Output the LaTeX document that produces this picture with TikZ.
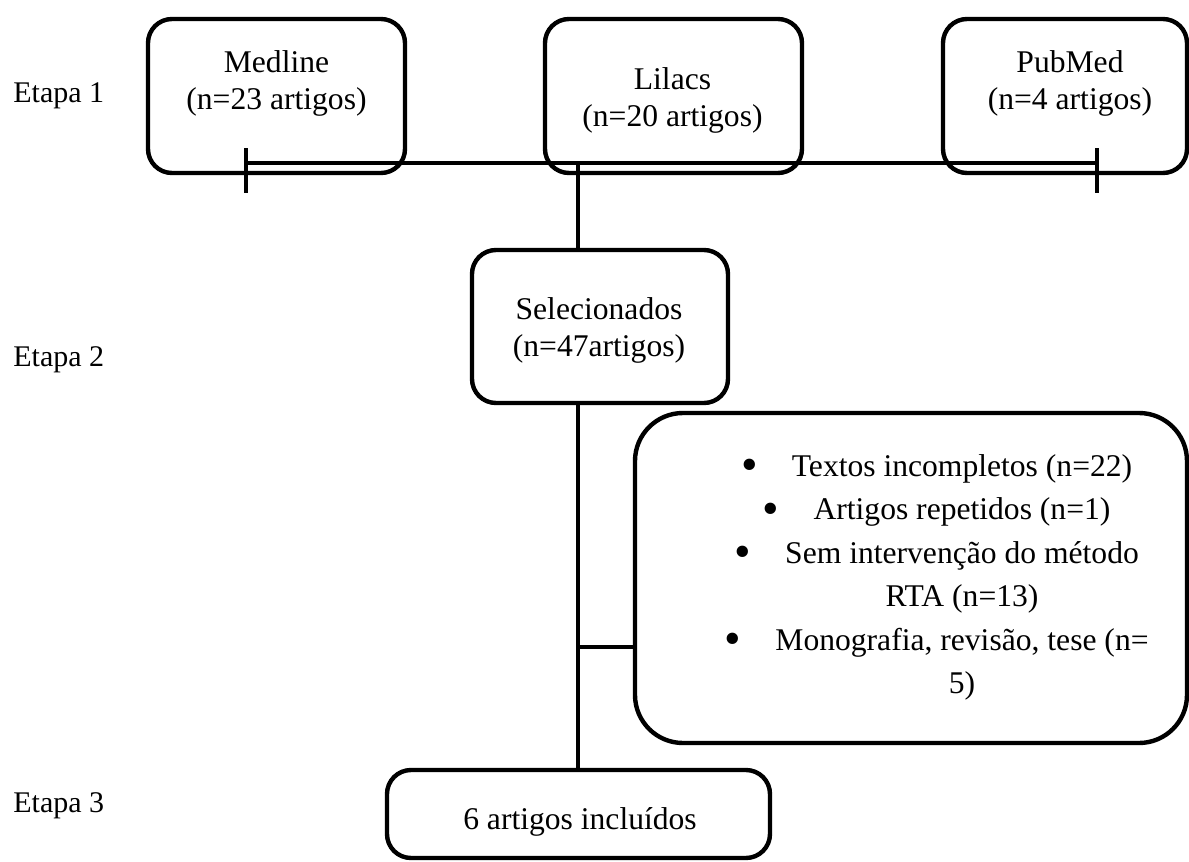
\documentclass[tikz,border=0pt]{standalone}
\usepackage{fontspec}
\setmainfont{Liberation Serif}
\newcommand\itm{\llap{\raisebox{-2.25pt}{\scalebox{1.5}{\textbullet}}\hspace{17pt}}}
\begin{document}
\begin{tikzpicture}[x=0.5pt,y=-0.5pt,
  box/.style={draw, line width=2.2pt, rounded corners=12pt, inner sep=0pt},
  txt/.style={font=\fontsize{15.8}{18.5}\selectfont, align=center, inner sep=0pt, anchor=north},
  bigtxt/.style={font=\fontsize{15.8}{21.75}\selectfont, align=center, inner sep=0pt, anchor=north},
  etapa/.style={font=\fontsize{15}{18}\selectfont, inner sep=0pt, anchor=base west},
  conn/.style={line width=2.2pt}]
\useasboundingbox (0,0) rectangle (1189,862);
% boxes
\node[box, minimum width=128.5pt, minimum height=77pt] (medline) at (276.5,96) {};
\node[box, minimum width=128.5pt, minimum height=77pt] (lilacs) at (673.5,96) {};
\node[box, minimum width=122pt, minimum height=77pt] (pubmed) at (1065,96) {};
\node[box, minimum width=128pt, minimum height=76.5pt] (sel) at (600,326.5) {};
\node[box, rounded corners=24pt, minimum width=276pt, minimum height=165pt] (excl) at (911,578) {};
\node[box, minimum width=191.5pt, minimum height=44pt] (incl) at (578.5,814) {};
% texts
\node[txt] (tmed) at (276.5,46) {\strut Medline\\\strut (n=23 artigos)};
\node[txt] (tlil) at (672.5,63) {\strut Lilacs\\\strut (n=20 artigos)};
\node[txt] (tpub) at (1070,46) {\strut PubMed\\\strut (n=4 artigos)};
\node[txt] (tsel) at (599,293) {\strut Selecionados\\\strut (n=47artigos)};
\node[bigtxt] (texcl) at (962,445.5) {\strut\itm Textos incompletos (n=22)\\
\strut\itm Artigos repetidos (n=1)\\
\strut\itm Sem intervenção do método\\
\strut RTA (n=13)\\
\strut\itm Monografia, revisão, tese (n=\\
\strut 5)};
\node[txt, anchor=base] (tincl) at (580,829) {6 artigos incluídos};
\node[etapa] (e1) at (13,102) {Etapa 1};
\node[etapa] (e2) at (13,366) {Etapa 2};
\node[etapa] (e3) at (13,812) {Etapa 3};
% connectors
\coordinate (hl) at (246,163);
\coordinate (hr) at (1097,163);
\coordinate (spine) at (578,163);
\coordinate (branch) at (578,647);
\draw[conn] (hl) -- (hr);
\draw[conn] (hl) ++(0,-15) -- ++(0,45);
\draw[conn] (hr) ++(0,-15) -- ++(0,45);
\draw[conn] (spine) -- (spine |- sel.north);
\draw[conn] (spine |- sel.south) -- (spine |- incl.north);
\draw[conn] (branch) -- (branch -| excl.west);
\end{tikzpicture}
\end{document}
